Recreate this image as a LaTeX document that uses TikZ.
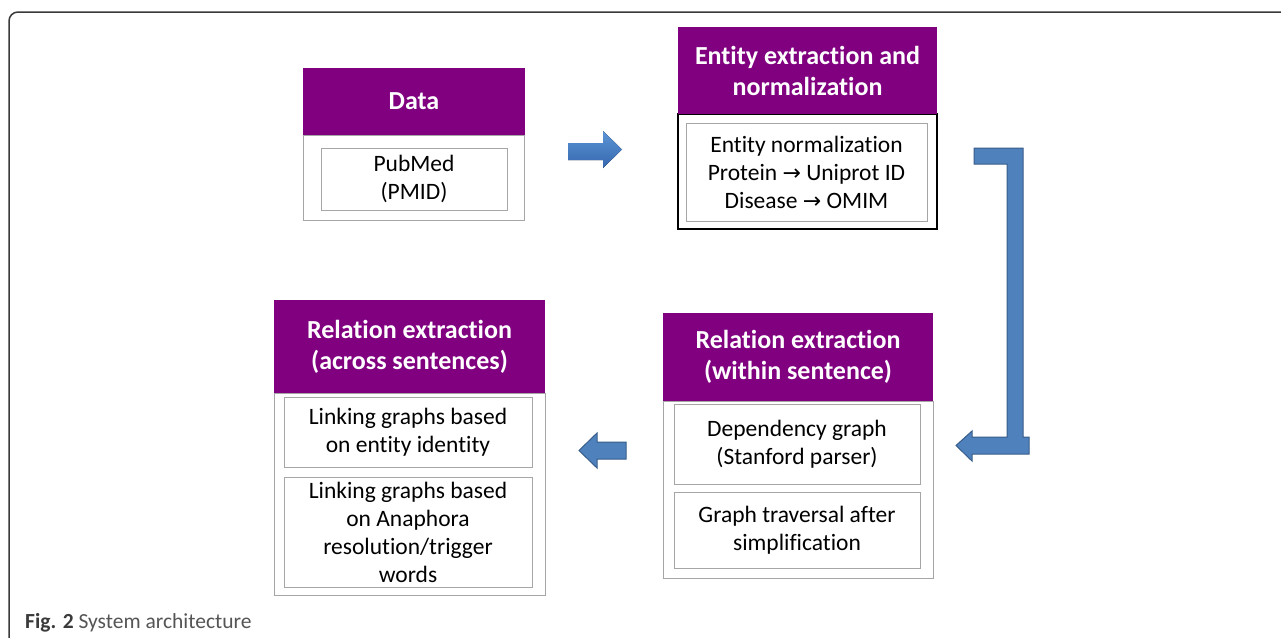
\documentclass[tikz,border=0pt]{standalone}
\usepackage{fontspec}
\setmainfont{Carlito}[Ligatures=NoCommon]
\newfontfamily\symfont{DejaVu Sans}
\definecolor{hdrpurple}{HTML}{800080}
\definecolor{boxgray}{HTML}{A6A6A6}
\definecolor{arrowblue}{HTML}{4F81BD}
\definecolor{arrowedge}{HTML}{385D8A}
\definecolor{arrowtop}{HTML}{5B95D6}
\definecolor{arrowbot}{HTML}{3667AE}
\definecolor{framegray}{HTML}{3A3A3A}
\definecolor{capgray}{HTML}{555555}
\begin{document}
\begin{tikzpicture}[x=1pt,y=-1pt,
  hdr/.style={fill=hdrpurple, draw=none, text=white, anchor=north west, inner sep=0pt, outer sep=0pt,
    align=center, font=\fontsize{26}{31}\selectfont\bfseries},
  body/.style={draw=boxgray, line width=1pt, fill=white, anchor=north west, inner sep=0pt, outer sep=0pt},
  inner/.style={draw=boxgray, line width=1pt, anchor=north west, inner sep=0pt, outer sep=0pt,
    align=center, font=\fontsize{23.5}{28}\selectfont},
  blockarrow/.style={fill=arrowblue, draw=arrowedge, line width=1pt, line join=miter}
]
\useasboundingbox (0,0) rectangle (1281,637);
\fill[white] (0,0) rectangle (1281,637);
% frame
\draw[framegray, line width=1.5pt, rounded corners=9pt] (9,640) -- (9,12) -- (1285,12);

% Data
\node[body, minimum width=221pt, minimum height=85pt] (db) at (303,135) {};
\node[hdr, minimum width=222pt, minimum height=67pt] (dh) at (303,68) {Data};
\node[inner, minimum width=186pt, minimum height=62pt] (di) at (321,148) {PubMed\\(PMID)};

% Entity extraction
\node[body, draw=black, line width=2pt, minimum width=259pt, minimum height=115pt] (eb) at (678,114) {};
\node[hdr, minimum width=259pt, minimum height=87pt] (eh) at (678,27) {Entity extraction and\\normalization};
\node[inner, minimum width=241pt, minimum height=98pt] (ei) at (686,123)
  {Entity normalization\\Protein {\symfont\fontsize{22}{28}\selectfont →} Uniprot ID\\Disease {\symfont\fontsize{22}{28}\selectfont →} OMIM};

% Relation within
\node[body, minimum width=270pt, minimum height=177pt] (wb) at (663,401) {};
\node[hdr, minimum width=270pt, minimum height=88pt] (wh) at (663,313) {Relation extraction\\(within sentence)};
\node[inner, minimum width=246pt, minimum height=80pt] (wi1) at (674,404) {Dependency graph\\(Stanford parser)};
\node[inner, minimum width=246pt, minimum height=76pt] (wi2) at (674,492) {Graph traversal after\\simplification};

% Relation across
\node[body, minimum width=271pt, minimum height=202pt] (ab) at (274,393) {};
\node[hdr, minimum width=271pt, minimum height=93pt] (ah) at (274,300) {Relation extraction\\(across sentences)};
\node[inner, minimum width=248pt, minimum height=70pt] (ai1) at (284,397) {Linking graphs based\\on entity identity};
\node[inner, minimum width=248pt, minimum height=110pt] (ai2) at (284,477) {Linking graphs based\\on Anaphora\\resolution/trigger\\words};

% block arrows
\fill[top color=arrowtop, bottom color=arrowbot]
  (568,143) -- (603,143) -- (603,131) -- (622,149.5) -- (603,168) -- (603,160) -- (568,160) -- cycle;
\draw[blockarrow]
  (974,148) -- (1023,148) -- (1023,437) -- (1029,437) -- (1029,454) -- (972,454) -- (972,461)
  -- (956,445.5) -- (972,431) -- (972,437) -- (1007,437) -- (1007,164) -- (974,164) -- cycle;
\draw[blockarrow]
  (626,442) -- (597,442) -- (597,433) -- (579,450.5) -- (597,468) -- (597,459) -- (626,459) -- cycle;

% caption
\node[anchor=base west, inner sep=0pt, font=\fontsize{21.5}{24}\selectfont] (cap) at (25,628)
  {\textbf{\color{framegray}Fig. 2} {\color{capgray}System architecture}};
\end{tikzpicture}
\end{document}
